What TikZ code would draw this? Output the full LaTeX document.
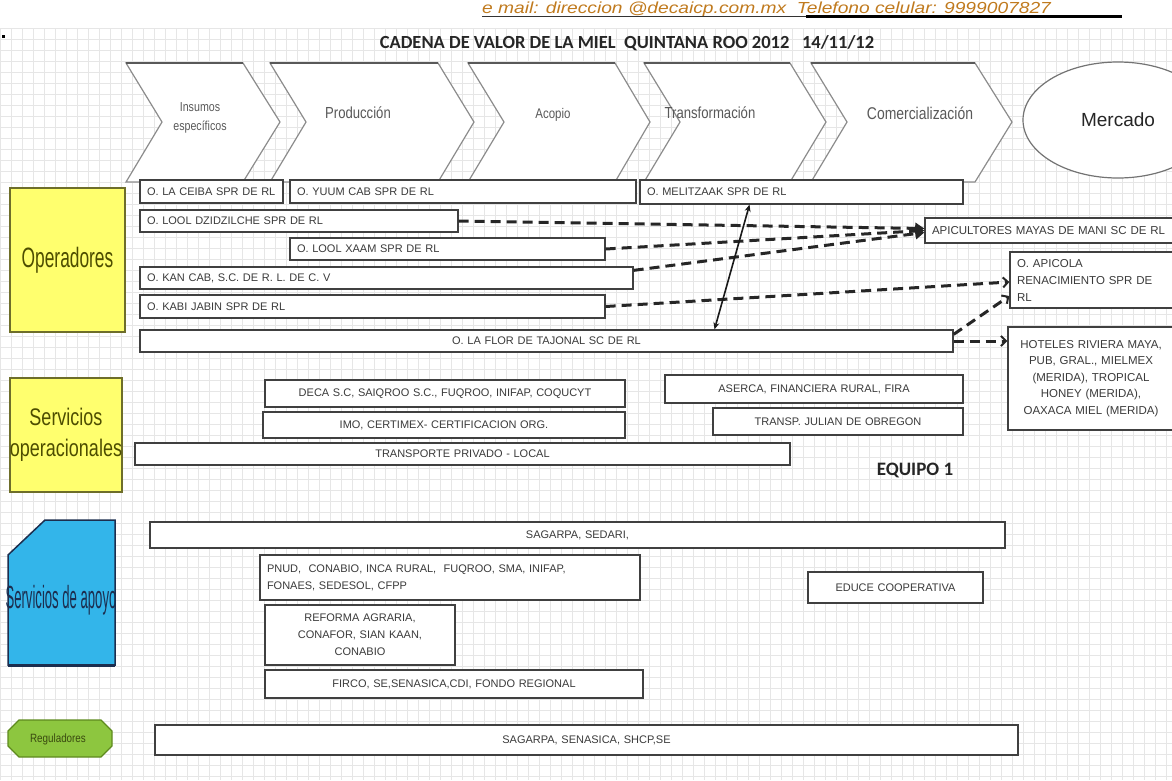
\documentclass[tikz,border=0pt]{standalone}
\usepackage{fontspec}
\setmainfont{Liberation Sans}
\newfontfamily\nar[FakeStretch=0.82]{Liberation Sans}
\newfontfamily\narB[FakeStretch=0.75]{Liberation Sans}
\newfontfamily\narA[FakeStretch=0.62]{Liberation Sans}
\newfontfamily\narC[FakeStretch=0.41]{Liberation Sans}
\newfontfamily\wideit[FakeStretch=1.2]{Liberation Sans}
\newfontfamily\calib{Carlito}
\usetikzlibrary{arrows.meta,shapes.geometric}
\definecolor{yel}{HTML}{FFFF6E}
\definecolor{yelb}{HTML}{6E6E2A}
\definecolor{olv}{HTML}{4D4D00}
\definecolor{blu}{HTML}{33B5EA}
\definecolor{navy}{HTML}{1C2E4F}
\definecolor{grn}{HTML}{8DC63F}
\definecolor{grnb}{HTML}{5E8A1E}
\definecolor{grntx}{HTML}{3A4A10}
\definecolor{txt}{HTML}{3A3A3A}
\definecolor{brd}{HTML}{404040}
\definecolor{org}{HTML}{C07A1E}
\definecolor{gridc}{HTML}{E6E6E6}
\tikzset{
  box/.style={draw=brd, line width=1.3pt, fill=white, text=txt, inner xsep=7pt, inner ysep=0pt, align=center, font=\fontsize{11}{17}\selectfont},
  lbox/.style={box, align=left},
  chev/.style={draw=black!45, line width=1.2pt, fill=white},
  chevtop/.style={draw=black!65, line width=2pt},
  chevtxt/.style={text=black!65, align=center},
  dsh/.style={line width=3pt, draw=black!85, dash pattern=on 10pt off 6pt},
  bighead/.style={dsh, -{Triangle[length=9pt,width=11pt]}},
  barb/.style={dsh, -{Straight Barb[length=5pt,width=10pt,line width=2pt]}},
  dbl/.style={line width=1.6pt, draw=black!90, {Stealth[length=7pt,width=6pt]}-{Stealth[length=7pt,width=6pt]}}
}
\newcommand{\bxx}[7]{\node[#1,minimum width={(#5-#3)*1pt},minimum height={(#6-#4)*1pt},text width={(#5-#3-14)*1pt}] (#2) at ({(#3+#5)/2},{(#4+#6)/2}) {#7};}
\begin{document}
\begin{tikzpicture}[x=1pt,y=-1pt]
\useasboundingbox (0,0) rectangle (1172,780);
\clip (0,0) rectangle (1172,780);
% grid background
\foreach \i in {0,11,...,1172} \draw[gridc, line width=0.5pt] (\i,28) -- (\i,780);
\foreach \j in {28,39,...,780} \draw[gridc, line width=0.5pt] (0,\j) -- (1172,\j);
% header
\node[anchor=base west, inner sep=0pt, font=\wideit\itshape\fontsize{16}{16}\selectfont, text=org] (mail) at (482,13.5) {e mail: direccion @decaicp.com.mx\ \ Telefono celular: 9999007827};
\draw[black!80, line width=0.8pt] (482,16) -- (806,16);
\draw[black, line width=3pt] (806,16.5) -- (1122,16.5);
\fill[black] (2,35) rectangle (5,38);
\node[font=\calib\bfseries\fontsize{18.5}{18.5}\selectfont, text=black!85] (title) at (627,43) {CADENA DE VALOR DE LA MIEL\ \ QUINTANA ROO 2012\ \ \ 14/11/12};
% chevrons
\draw[chev] (126,63) -- (243,63) -- (280,122) -- (243,182) -- (126,182) -- (162,122) -- cycle;
\draw[chevtop] (126,63) -- (243,63);
\draw[chev] (270,63) -- (438,63) -- (474,122) -- (438,182) -- (270,182) -- (306,122) -- cycle;
\draw[chevtop] (270,63) -- (438,63);
\draw[chev] (468,63) -- (615,63) -- (650,122) -- (615,182) -- (468,182) -- (504,122) -- cycle;
\draw[chevtop] (468,63) -- (615,63);
\draw[chev] (644,63) -- (790,63) -- (826,122) -- (790,182) -- (644,182) -- (680,122) -- cycle;
\draw[chevtop] (644,63) -- (790,63);
\draw[chev] (811,63) -- (975,63) -- (1012,122) -- (975,182) -- (811,182) -- (847,122) -- cycle;
\draw[chevtop] (811,63) -- (975,63);
\node[chevtxt, font=\nar\fontsize{13}{19}\selectfont] (ins) at (200,118) {Insumos\\específicos};
\node[chevtxt, font=\nar\fontsize{16}{18}\selectfont] (prod) at (358,113) {Producción};
\node[chevtxt, font=\nar\fontsize{14}{18}\selectfont] (acop) at (553,115) {Acopio};
\node[chevtxt, font=\nar\fontsize{16}{18}\selectfont] (trans) at (710,113) {Transformación};
\node[chevtxt, font=\nar\fontsize{17}{18}\selectfont] (comer) at (920,113) {Comercialización};
\node[ellipse, draw=black!55, line width=1.2pt, fill=white, minimum width=190pt, minimum height=116pt, font=\fontsize{19}{19}\selectfont, text=black!85] (merc) at (1118,120) {Mercado};
% left labels
\node[fill=yel, draw=yelb, line width=1.5pt, minimum width=115pt, minimum height=144pt, inner xsep=0pt, font=\narA\fontsize{28}{28}\selectfont, text=olv] (oper) at (67.5,260) {Operadores};
\node[fill=yel, draw=yelb, line width=1.5pt, minimum width=112pt, minimum height=114pt, inner xsep=0pt, align=center, font=\narB\fontsize{24}{31}\selectfont, text=olv] (servop) at (66,435) {Servicios\\operacionales};
\filldraw[fill=blu, draw=navy, line width=1.5pt] (45,520) -- (115,520) -- (115,665) -- (8,665) -- (8,555) -- cycle;
\draw[navy, line width=3pt] (8,665) -- (115,665);
\node[inner sep=0pt, font=\narC\fontsize{32}{32}\selectfont, text=navy] (apoyo) at (61,600) {Servicios de apoyo};
\filldraw[fill=grn, draw=grnb, line width=1.3pt] (19,720) -- (101,720) -- (112,731) -- (112,746) -- (101,757) -- (19,757) -- (8,746) -- (8,731) -- cycle;
\node[font=\nar\fontsize{12}{12}\selectfont, text=grntx] (regu) at (58,739) {Reguladores};
% operators
\bxx{lbox}{ceiba}{140}{180}{283}{203}{O. LA CEIBA SPR DE RL}
\bxx{lbox}{yuum}{290}{180}{636}{203}{O. YUUM CAB SPR DE RL}
\bxx{lbox}{meli}{640}{180}{963}{204}{O. MELITZAAK SPR DE RL}
\bxx{lbox}{lool}{140}{210}{458}{232}{O. LOOL DZIDZILCHE SPR DE RL}
\bxx{lbox}{xaam}{290}{238}{605}{260}{O. LOOL XAAM SPR DE RL}
\bxx{lbox}{kan}{140}{267}{633}{289}{O. KAN CAB, S.C. DE R. L. DE C. V}
\bxx{lbox}{kabi}{140}{295}{605}{318}{O. KABI JABIN SPR DE RL}
\bxx{box}{flor}{140}{330}{953}{352}{O. LA FLOR DE TAJONAL SC DE RL}
% right market boxes
\bxx{lbox,font=\fontsize{11.5}{17}\selectfont}{apic}{925}{218}{1180}{243}{APICULTORES MAYAS DE MANI SC DE RL}
\bxx{lbox,font=\fontsize{11.5}{17}\selectfont}{apicola}{1010}{252}{1180}{308}{O. APICOLA\\RENACIMIENTO SPR DE\\RL}
\bxx{box,font=\fontsize{11.5}{16.5}\selectfont}{hoteles}{1008}{327}{1174}{430}{HOTELES RIVIERA MAYA,\\PUB, GRAL., MIELMEX\\(MERIDA), TROPICAL\\HONEY (MERIDA),\\OAXACA MIEL (MERIDA)}
% operational services
\bxx{box}{deca}{265}{380}{625}{407}{DECA S.C, SAIQROO S.C., FUQROO, INIFAP, COQUCYT}
\bxx{box}{imo}{263}{412}{625}{438}{IMO, CERTIMEX- CERTIFICACION ORG.}
\bxx{box}{tpriv}{135}{443}{790}{465}{TRANSPORTE PRIVADO - LOCAL}
\bxx{box}{aserca}{665}{375}{963}{403}{ASERCA, FINANCIERA RURAL, FIRA}
\bxx{box}{julian}{713}{408}{963}{435}{TRANSP. JULIAN DE OBREGON}
\node[font=\calib\bfseries\fontsize{19}{19}\selectfont, text=black!85] (equipo) at (915,470) {EQUIPO 1};
% support services
\bxx{box}{sagarpa}{150}{522}{1005}{548}{SAGARPA, SEDARI,}
\bxx{lbox}{pnud}{260}{555}{640}{600}{PNUD,\ \ CONABIO, INCA RURAL,\ \ FUQROO, SMA, INIFAP,\\FONAES, SEDESOL, CFPP}
\bxx{box}{reforma}{265}{605}{455}{665}{REFORMA AGRARIA,\\CONAFOR, SIAN KAAN,\\CONABIO}
\bxx{box}{firco}{265}{670}{643}{698}{FIRCO, SE,SENASICA,CDI, FONDO REGIONAL}
\bxx{box}{educe}{808}{572}{983}{603}{EDUCE COOPERATIVA}
% regulators
\bxx{box}{regbox}{155}{725}{1018}{755}{SAGARPA, SENASICA, SHCP,SE}
% connectors
\draw[bighead] (lool.east) -- ([yshift=2pt]apic.west);
\draw[bighead] (xaam.east) -- (apic.west);
\draw[bighead] ([yshift=-4pt]kan.north east) -- ([yshift=-2pt]apic.west);
\draw[barb] (kabi.east) -- ([yshift=-2pt]apicola.west);
\draw[barb] ([yshift=-5pt]flor.north east) -- ([yshift=-16pt]apicola.west);
\draw[barb] (flor.east) -- (flor.east -| hoteles.west);
\draw[dbl] ([xshift=168pt]flor.north) -- ([xshift=-52pt]meli.south);
\end{tikzpicture}
\end{document}
